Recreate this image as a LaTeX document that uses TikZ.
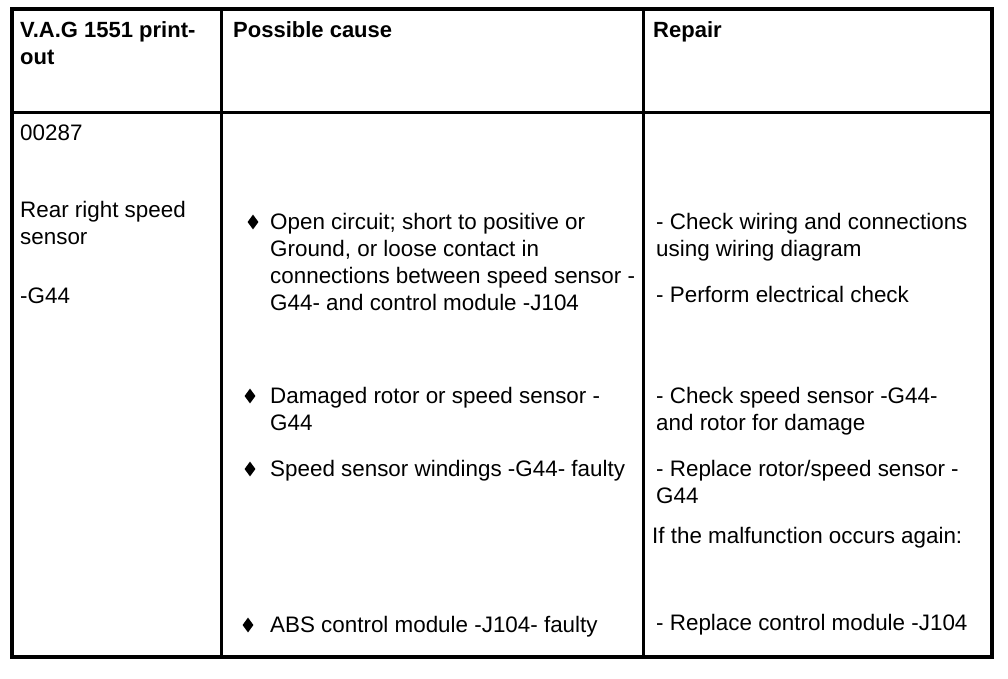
\documentclass[tikz,border=0pt]{standalone}
\usepackage{fontspec}
\setmainfont{Liberation Sans}
\usetikzlibrary{shapes.geometric}
\begin{document}
\begin{tikzpicture}[x=1pt,y=-1pt,
cell/.style={anchor=base west,inner sep=0pt,align=left,font=\fontsize{22.4}{27}\selectfont},
head/.style={cell,font=\bfseries\fontsize{22}{27}\selectfont},
bul/.style={diamond,fill,inner sep=0pt,minimum width=11pt,minimum height=15pt}]
\useasboundingbox(0,0)rectangle(1008,678);
% frame and rules
\draw[line width=4pt](12,8.5)rectangle(992,656.5);
\draw[line width=3.5pt](221.5,8.5)--(221.5,656.5)(643.5,8.5)--(643.5,656.5);
\draw[line width=3pt](12,112)--(992,112);
% header
\node[head](h1)at(20,64){V.A.G 1551 print-\\out};
\node[head](h2)at(233,37){Possible cause};
\node[head](h3)at(653,37){Repair};
% first column
\node[cell](code)at(20,140){00287};
\node[cell](name)at(20,244){Rear right speed\\sensor};
\node[cell](part)at(20,303){-G44};
% possible causes
\foreach \x/\y/\n in{253/222/a,250/396/b,250/469/c,248/625/d}
\node[bul](bul\n)at(\x,\y){};
\node[cell](ca)at(270,310){Open circuit; short to positive or\\Ground, or loose contact in\\connections between speed sensor -\\G44- and control module -J104};
\node[cell](cb)at(270,430){Damaged rotor or speed sensor -\\G44};
\node[cell](cc)at(270,476){Speed sensor windings -G44- faulty};
\node[cell](cd)at(270,632){ABS control module -J104- faulty};
% repair
\node[cell](ra)at(656,256){- Check wiring and connections\\using wiring diagram};
\node[cell](rb)at(656,302){- Perform electrical check};
\node[cell](rc)at(656,430){- Check speed sensor -G44-\\and rotor for damage};
\node[cell](rd)at(656,503){- Replace rotor/speed sensor -\\G44};
\node[cell](re)at(652,543){If the malfunction occurs again:};
\node[cell](rf)at(656,630){- Replace control module -J104};
\end{tikzpicture}
\end{document}
